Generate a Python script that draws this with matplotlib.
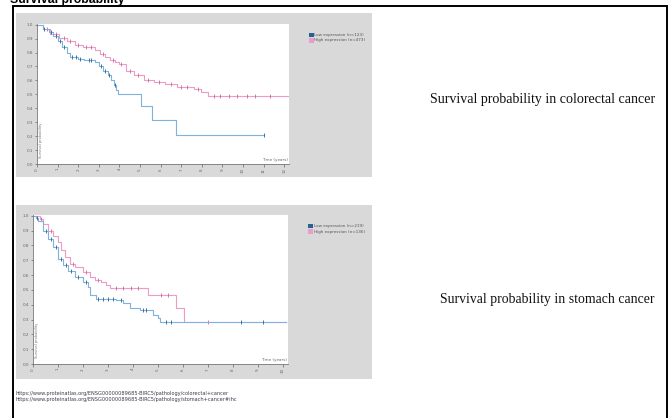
import numpy as np
import matplotlib
matplotlib.use("Agg")
import matplotlib.pyplot as plt
from matplotlib.patches import Rectangle

W, H = 672, 418

# ---- Kaplan-Meier steps: colorectal cancer ----
crc_low_t = [0, 0.3, 0.6, 0.8, 1.0, 1.2, 1.45, 1.6, 2.0, 2.3, 2.8, 3.0, 3.2, 3.45,
             3.6, 3.75, 3.85, 3.93, 5.03, 5.6, 6.77, 11.0]
crc_low_s = [1.0, 0.97, 0.95, 0.92, 0.88, 0.84, 0.80, 0.77, 0.755, 0.745, 0.73, 0.70,
             0.67, 0.64, 0.60, 0.565, 0.53, 0.50, 0.415, 0.315, 0.205, 0.205]
crc_low_cens = [0.35, 0.7, 0.9, 1.1, 1.3, 1.7, 1.9, 2.1, 2.5, 2.6, 3.1, 3.3, 3.5, 3.8, 11.0]

crc_high_t = [0, 0.3, 0.65, 1.05, 1.45, 1.85, 2.25, 2.8, 3.05, 3.3, 3.55, 3.8, 4.0,
              4.3, 4.7, 5.2, 5.7, 6.2, 6.8, 7.6, 7.95, 8.3, 12.2]
crc_high_s = [1.0, 0.97, 0.935, 0.905, 0.88, 0.855, 0.84, 0.82, 0.79, 0.77, 0.75, 0.735,
              0.72, 0.67, 0.64, 0.60, 0.59, 0.575, 0.555, 0.54, 0.52, 0.485, 0.485]
crc_high_cens = [0.5, 0.9, 1.3, 1.6, 2.0, 2.4, 2.6, 3.2, 3.7, 4.1, 4.5, 4.9, 5.4, 5.9,
                 6.5, 7.0, 7.3, 7.8, 8.6, 8.9, 9.3, 9.7, 10.2, 10.6, 11.3]

# ---- Kaplan-Meier steps: stomach cancer ----
stad_low_t = [0, 0.1, 0.2, 0.4, 0.6, 0.8, 1.0, 1.2, 1.4, 1.67, 2.0, 2.2, 2.27, 2.53,
              3.33, 3.6, 3.87, 4.27, 4.8, 5.0, 5.07, 10.1]
stad_low_s = [1.0, 0.985, 0.965, 0.90, 0.845, 0.79, 0.71, 0.665, 0.63, 0.585, 0.555,
              0.52, 0.465, 0.44, 0.43, 0.41, 0.375, 0.365, 0.33, 0.31, 0.28, 0.28]
stad_low_cens = [0.15, 0.5, 0.7, 0.9, 1.1, 1.3, 1.5, 1.8, 2.1, 2.6, 2.8, 3.0, 3.2, 3.5,
                 4.4, 4.5, 5.3, 5.5, 8.3, 9.2]

stad_high_t = [0, 0.27, 0.4, 0.6, 0.8, 1.0, 1.13, 1.27, 1.47, 1.67, 2.0, 2.27, 2.47,
               2.73, 2.93, 3.07, 4.6, 5.73, 6.03, 10.1]
stad_high_s = [1.0, 0.978, 0.944, 0.90, 0.866, 0.82, 0.766, 0.72, 0.676, 0.654, 0.62,
               0.59, 0.565, 0.554, 0.53, 0.51, 0.464, 0.375, 0.28, 0.28]
stad_high_cens = [0.3, 0.7, 1.6, 2.1, 2.6, 3.3, 3.6, 3.9, 4.2, 5.1, 5.4, 7.0]

crc_labels = ["Low expression (n=123)", "High expression (n=473)"]
stad_labels = ["Low expression (n=219)", "High expression (n=136)"]
crc_caption = "Survival probability in colorectal cancer"
stad_caption = "Survival probability in stomach cancer"
urls = ["https://www.proteinatlas.org/ENSG00000089685-BIRC5/pathology/colorectal+cancer",
        "https://www.proteinatlas.org/ENSG00000089685-BIRC5/pathology/stomach+cancer#ihc"]

LOW_LINE, LOW_MARK = "#7fb2dc", "#2a6190"
HIGH_LINE, HIGH_MARK = "#ec9cc8", "#d9609f"


def box(l, t, r, b):
    return [l / W, 1 - b / H, (r - l) / W, (b - t) / H]


def step_at(ts, ss, x):
    idx = np.searchsorted(ts, x, side="right") - 1
    return np.asarray(ss)[idx]


fig = plt.figure(figsize=(W / 100, H / 100), dpi=100)
fig.patch.set_facecolor("white")

# page layer in pixel coordinates
page = fig.add_axes([0, 0, 1, 1])
page.set_xlim(0, W)
page.set_ylim(H, 0)
page.axis("off")
page.set_zorder(0)

# heading (partly cut off at the top edge)
page.text(10, 2.5, "Survival probability", fontsize=8.8, fontweight="bold",
          family="Liberation Sans", va="baseline", ha="left", color="black")
# frame of the figure block
page.plot([13, 13, 666.5, 666.5], [H + 2, 5.8, 5.8, H + 2], color="black", lw=1.4,
          solid_joinstyle="miter")

# grey panels
for (l, t, r, b) in [(16, 13, 372, 177), (16, 205, 372, 379)]:
    page.add_patch(Rectangle((l, t), r - l, b - t, facecolor="#d9d9d9", edgecolor="none"))

page.text(430, 100, crc_caption, family="Liberation Serif", fontsize=10.1,
          va="center", ha="left", color="#111111")
page.text(440, 300, stad_caption, family="Liberation Serif", fontsize=9.9,
          va="center", ha="left", color="#111111")
for i, u in enumerate(urls):
    page.text(16, 393 + 7 * i, u, fontsize=3.6, color="#3a3a4a", va="center", ha="left")


def legend(x, y, labels):
    for i, (lab, c) in enumerate(zip(labels, [LOW_MARK, HIGH_LINE])):
        yy = y + 5.5 * i
        page.add_patch(Rectangle((x, yy - 2.2), 4.5, 4.5, facecolor=c, edgecolor="none"))
        page.text(x + 5.5, yy, lab, fontsize=3.0, color="#555555", va="center", ha="left")


legend(309, 35, crc_labels)
legend(308, 226, stad_labels)


def km_axes(rect, xmax, series):
    ax = fig.add_axes(rect)
    ax.set_zorder(2)
    ax.set_facecolor("white")
    for t, s, cens, lc, mc in series:
        ax.step(t, s, where="post", color=lc, lw=0.8)
        ax.plot(cens, step_at(t, s, cens), ls="none", marker="|", ms=2.2,
                mew=0.6, color=mc)
    ax.set_xlim(0, xmax)
    ax.set_ylim(0, 1.005)
    ax.set_yticks(np.arange(0, 1.01, 0.1))
    ax.set_yticklabels([f"{v:.1f}" for v in np.arange(0, 1.01, 0.1)])
    ax.set_xticks(np.arange(0, int(xmax) + 1))
    for sp in ["top", "right"]:
        ax.spines[sp].set_visible(False)
    for sp in ["left", "bottom"]:
        ax.spines[sp].set_color("#777777")
        ax.spines[sp].set_linewidth(0.6)
    ax.tick_params(axis="both", labelsize=3, colors="#666666", length=1.8,
                   width=0.5, pad=1)
    ax.tick_params(axis="x", labelrotation=90)
    ax.text(0.995, 0.015, "Time (years)", transform=ax.transAxes, fontsize=3,
            color="#666666", ha="right", va="bottom")
    ax.text(0.008, 0.04, "Survival probability", transform=ax.transAxes, fontsize=2.6,
            color="#777777", rotation=90, ha="left", va="bottom")
    return ax


km_axes(box(37, 24, 289, 164), 12.23,
        [(crc_high_t, crc_high_s, crc_high_cens, HIGH_LINE, HIGH_MARK),
         (crc_low_t, crc_low_s, crc_low_cens, LOW_LINE, LOW_MARK)])
km_axes(box(33, 215, 288, 364), 10.2,
        [(stad_high_t, stad_high_s, stad_high_cens, HIGH_LINE, HIGH_MARK),
         (stad_low_t, stad_low_s, stad_low_cens, LOW_LINE, LOW_MARK)])

fig.savefig("out.png", dpi=100, facecolor="white")
